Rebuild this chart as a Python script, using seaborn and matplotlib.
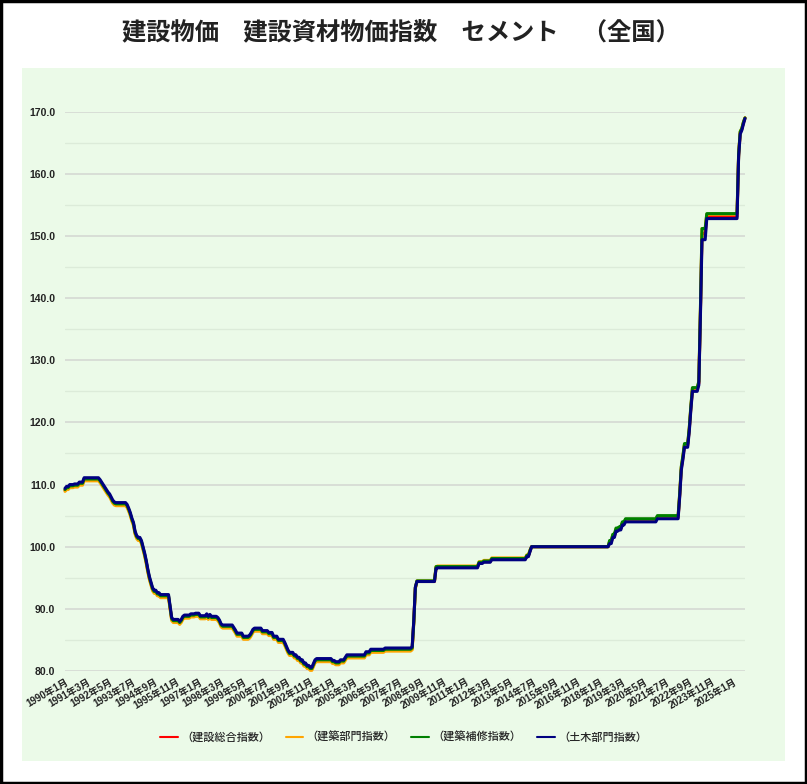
import numpy as np
import pandas as pd
import matplotlib
matplotlib.use("Agg")
import matplotlib.pyplot as plt
from matplotlib.patches import Rectangle
from matplotlib.ticker import MultipleLocator
import seaborn as sns

# データ: 1990年1月から月次、同じ値が続く期間ごとに (期間の長さ, 値)
seg_len = [1, 2, 3, 3, 3, 10, 1, 1, 1, 1,
           1, 1, 1, 1, 1, 1, 7, 1, 1, 1,
           1, 1, 1, 1, 2, 1, 1, 1, 1, 1,
           1, 1, 1, 2, 2, 6, 1, 1, 4, 1,
           1, 1, 4, 3, 3, 4, 1, 1, 1, 4,
           1, 1, 1, 7, 1, 1, 4, 4, 1, 1,
           1, 5, 4, 3, 3, 4, 1, 1, 1, 3,
           2, 2, 2, 2, 2, 2, 1, 1, 10, 2,
           3, 3, 1, 12, 3, 9, 17, 1, 1, 1,
           12, 1, 26, 3, 5, 22, 2, 1, 49, 2,
           2, 2, 2, 2, 20, 14, 1, 1, 1, 3,
           1, 1, 4, 1, 1, 3, 20, 1, 1, 1, 1, 1]

total_idx = [109.1, 109.4, 109.7, 109.8, 110.1, 110.8, 110.5, 110.1, 109.7, 109.3,
             108.9, 108.5, 108.2, 107.7, 107.2, 106.9, 106.8, 106.5, 105.9, 105.2,
             104.3, 103.6, 102.2, 101.5, 101.2, 100.7, 99.7, 98.7, 97.5, 96.1,
             94.9, 94.0, 93.1, 92.7, 92.3, 92.0, 90.2, 88.3, 88.0, 87.7,
             88.0, 88.5, 88.7, 88.9, 89.0, 88.6, 88.9, 88.5, 88.8, 88.5,
             88.3, 87.9, 87.3, 87.1, 86.7, 86.3, 85.8, 85.3, 85.5, 85.9,
             86.4, 86.6, 86.2, 85.9, 85.3, 84.8, 84.3, 83.7, 83.1, 82.7,
             82.3, 81.9, 81.5, 81.0, 80.6, 80.3, 80.9, 81.5, 81.7, 81.4,
             81.2, 81.5, 81.9, 82.3, 82.8, 83.2, 83.4, 83.6, 88.0, 93.4,
             94.4, 96.6, 96.7, 97.4, 97.6, 98.0, 98.5, 99.3, 100.0, 100.7,
             101.7, 102.7, 102.9, 103.7, 104.2, 104.7, 108.3, 112.6, 114.3, 116.3,
             118.8, 122.3, 125.3, 126.3, 137.5, 150.4, 153.1, 163.0, 166.6, 167.2, 168.2, 169.0]

building_idx = [108.9, 109.2, 109.5, 109.6, 109.9, 110.6, 110.3, 109.9, 109.5, 109.1,
                108.7, 108.3, 108.0, 107.5, 107.0, 106.7, 106.6, 106.3, 105.7, 105.0,
                104.1, 103.4, 102.0, 101.3, 101.0, 100.5, 99.5, 98.5, 97.3, 95.9,
                94.7, 93.8, 92.9, 92.5, 92.1, 91.8, 90.0, 88.1, 87.8, 87.5,
                87.8, 88.3, 88.5, 88.7, 88.8, 88.4, 88.7, 88.3, 88.6, 88.3,
                88.1, 87.7, 87.1, 86.9, 86.5, 86.1, 85.6, 85.1, 85.3, 85.7,
                86.2, 86.4, 86.0, 85.7, 85.1, 84.6, 84.1, 83.5, 82.9, 82.5,
                82.1, 81.7, 81.3, 80.8, 80.4, 80.1, 80.7, 81.3, 81.5, 81.2,
                81.0, 81.3, 81.7, 82.1, 82.6, 83.0, 83.2, 83.4, 87.5, 93.2,
                94.5, 96.8, 96.9, 97.6, 97.8, 98.2, 98.7, 99.5, 100.0, 100.9,
                101.9, 102.9, 103.1, 103.9, 104.4, 104.9, 108.5, 112.8, 114.5, 116.5,
                119.0, 122.5, 125.5, 126.5, 138.0, 151.2, 153.5, 163.2, 166.8, 167.3, 168.3, 169.0]

repair_idx = [109.2, 109.5, 109.8, 109.9, 110.2, 110.9, 110.6, 110.2, 109.8, 109.4,
              109.0, 108.6, 108.3, 107.8, 107.3, 107.0, 106.9, 106.6, 106.0, 105.3,
              104.4, 103.7, 102.3, 101.6, 101.3, 100.8, 99.8, 98.8, 97.6, 96.2,
              95.0, 94.1, 93.2, 92.8, 92.4, 92.1, 90.3, 88.4, 88.1, 87.8,
              88.1, 88.6, 88.8, 89.0, 89.1, 88.7, 89.0, 88.6, 88.9, 88.6,
              88.4, 88.0, 87.4, 87.2, 86.8, 86.4, 85.9, 85.4, 85.6, 86.0,
              86.5, 86.7, 86.3, 86.0, 85.4, 84.9, 84.4, 83.8, 83.2, 82.8,
              82.4, 82.0, 81.6, 81.1, 80.7, 80.4, 81.0, 81.6, 81.8, 81.5,
              81.3, 81.6, 82.0, 82.4, 82.9, 83.3, 83.5, 83.7, 87.8, 93.4,
              94.5, 96.8, 96.8, 97.5, 97.7, 98.1, 98.6, 99.4, 100.0, 101.0,
              102.0, 103.0, 103.2, 104.0, 104.5, 105.0, 108.6, 112.9, 114.6, 116.6,
              119.1, 122.6, 125.6, 126.6, 138.2, 151.2, 153.6, 163.2, 166.8, 167.3, 168.3, 169.0]

civil_idx = [109.4, 109.7, 110.0, 110.1, 110.4, 111.1, 110.8, 110.4, 110.0, 109.6,
             109.2, 108.8, 108.5, 108.0, 107.5, 107.2, 107.1, 106.8, 106.2, 105.5,
             104.6, 103.9, 102.5, 101.8, 101.5, 101.0, 100.0, 99.0, 97.8, 96.4,
             95.2, 94.3, 93.4, 93.0, 92.6, 92.3, 90.5, 88.6, 88.3, 88.0,
             88.3, 88.8, 89.0, 89.2, 89.3, 88.9, 89.2, 88.8, 89.1, 88.8,
             88.6, 88.2, 87.6, 87.4, 87.0, 86.6, 86.1, 85.6, 85.8, 86.2,
             86.7, 86.9, 86.5, 86.2, 85.6, 85.1, 84.6, 84.0, 83.4, 83.0,
             82.6, 82.2, 81.8, 81.3, 80.9, 80.6, 81.2, 81.8, 82.0, 81.7,
             81.5, 81.8, 82.2, 82.6, 83.1, 83.5, 83.7, 83.9, 88.0, 93.5,
             94.4, 96.5, 96.6, 97.3, 97.5, 97.9, 98.4, 99.2, 100.0, 100.5,
             101.5, 102.5, 102.7, 103.5, 104.0, 104.5, 108.0, 112.3, 114.0, 116.0,
             118.5, 122.0, 125.0, 126.0, 137.0, 149.4, 152.8, 162.8, 166.4, 167.0, 168.0, 168.9]

series_names = ["（建設総合指数）", "（建築部門指数）", "（建築補修指数）", "（土木部門指数）"]
series_colors = ["#ff0000", "#ffa500", "#008000", "#000080"]

tick_labels = ["1990年1月", "1991年3月", "1992年5月", "1993年7月", "1994年9月", "1995年11月",
               "1997年1月", "1998年3月", "1999年5月", "2000年7月", "2001年9月", "2002年11月",
               "2004年1月", "2005年3月", "2006年5月", "2007年7月", "2008年9月", "2009年11月",
               "2011年1月", "2012年3月", "2013年5月", "2014年7月", "2015年9月", "2016年11月",
               "2018年1月", "2019年3月", "2020年5月", "2021年7月", "2022年9月", "2023年11月",
               "2025年1月"]

# 月次系列に展開
frames = []
for name, vals in zip(series_names, [total_idx, building_idx, repair_idx, civil_idx]):
    monthly = np.repeat(vals, seg_len)
    frames.append(pd.DataFrame({"month": np.arange(len(monthly)), "value": monthly, "series": name}))
df = pd.concat(frames, ignore_index=True)
n_months = df["month"].max() + 1

sns.set_style("white")
plt.rcParams['font.family'] = ['Liberation Sans', 'Noto Sans CJK JP', 'DejaVu Sans']

bg = "#ebfae8"
fig = plt.figure(figsize=(8.07, 7.84), dpi=100)
fig.patches.append(Rectangle((22 / 807, 1 - 761 / 784), 763 / 807, 693 / 784,
                             transform=fig.transFigure, facecolor=bg, edgecolor="none", zorder=-10))
fig.patches.append(Rectangle((0.001, 0.001), 0.998, 0.998, transform=fig.transFigure,
                             facecolor="none", edgecolor="black", linewidth=2.5, zorder=5))

ax = fig.add_axes([65 / 807, 1 - 671 / 784, 680 / 807, 559.3 / 784])
ax.set_facecolor(bg)

sns.lineplot(data=df, x="month", y="value", hue="series", hue_order=series_names,
             palette=series_colors, linewidth=2.2, ax=ax, legend=False)
for ln in ax.lines:
    ln.set_clip_on(False)

ax.set_xlim(0, n_months - 1)
ax.set_ylim(80, 170)
ax.yaxis.set_major_locator(MultipleLocator(10))
ax.yaxis.set_minor_locator(MultipleLocator(5))
ax.grid(axis="y", which="major", color="#d6dbd5", linewidth=1.3)
ax.grid(axis="y", which="minor", color="#dcebd9", linewidth=1.0)
ax.grid(axis="x", visible=False)
ax.set_axisbelow(True)
for s in ax.spines.values():
    s.set_visible(False)

ax.set_yticks(np.arange(80, 171, 10))
ax.set_yticklabels([f"{v:.1f}" for v in np.arange(80, 171, 10)], fontsize=7.5, fontweight="bold", color="#222222")
ax.set_xticks(np.arange(0, n_months, 14))
ax.set_xticklabels(tick_labels, rotation=30, ha="right", rotation_mode="anchor",
                   fontsize=7, fontweight="bold", color="#222222")
ax.tick_params(axis="both", which="both", length=0)
ax.tick_params(axis="y", pad=7)
ax.tick_params(axis="x", pad=4)
ax.set_xlabel("")
ax.set_ylabel("")

fig.text(0.497, 1 - 32 / 784, "建設物価　建設資材物価指数　セメント　（全国）", ha="center", va="center",
         fontsize=17.5, fontweight="bold", color="#222222",
         family=['Noto Sans CJK JP', 'DejaVu Sans'])

handles = [plt.Line2D([], [], color=c, linewidth=1.5) for c in series_colors]
fig.legend(handles, series_names, loc="center", bbox_to_anchor=(0.5, 1 - 737 / 784), ncol=4,
           frameon=False, handlelength=1.6, handletextpad=0.3, columnspacing=1.4,
           prop={"family": ['Noto Sans CJK JP', 'DejaVu Sans'], "size": 8, "weight": "medium"})

fig.savefig("out.png", dpi=100, facecolor="white")
